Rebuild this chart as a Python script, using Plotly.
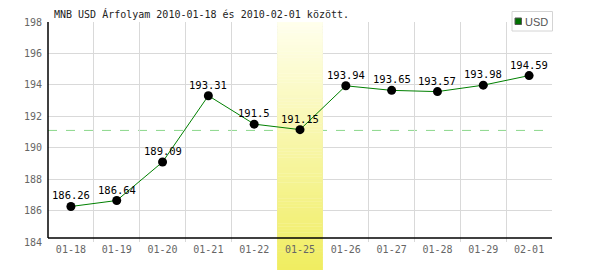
import plotly.graph_objects as go

dates = ["01-18", "01-19", "01-20", "01-21", "01-22", "01-25",
         "01-26", "01-27", "01-28", "01-29", "02-01"]
usd = [186.26, 186.64, 189.09, 193.31, 191.5, 191.15,
       193.94, 193.65, 193.57, 193.98, 194.59]
y_ticks = [184, 186, 188, 190, 192, 194, 196, 198]
ref_level = 191.1
highlight = "01-25"
title_text = "MNB USD Árfolyam 2010-01-18 és 2010-02-01 között."
series_name = "USD"

W, H = 600, 270
L, R, T, B = 48, 48, 22, 28
PW, PH = W - L - R, H - T - B
YMIN, YMAX = y_ticks[0], y_ticks[-1]

def px_paper_x(px):
    return (px - L) / PW

def px_paper_y(py):
    return (H - B - py) / PH

def px_data_y(py):
    return YMIN + (H - B - py) / PH * (YMAX - YMIN)

xs = list(range(len(dates)))
mono = "DejaVu Sans Mono"

fig = go.Figure()
fig.add_trace(go.Scatter(
    x=xs, y=usd, mode="lines+markers",
    line=dict(color="#008000", width=1),
    marker=dict(color="black", size=9),
    cliponaxis=False, showlegend=False, hoverinfo="skip",
))

shapes = []
# reference dashed line (drawn under the highlight band)
shapes.append(dict(type="line", xref="paper", yref="y", layer="between",
                   x0=0, x1=1, y0=ref_level, y1=ref_level,
                   line=dict(color="rgb(140,215,140)", width=1, dash="dash")))

# highlight band with vertical gradient
hi = dates.index(highlight)
top_px, bot_px = 20, 270
n = 80
c0 = (255, 255, 238)
c1 = (240, 237, 96)
for i in range(n):
    a = top_px + (bot_px - top_px) * i / n
    b = top_px + (bot_px - top_px) * (i + 1) / n
    t = (i + 0.5) / n
    col = "rgb(%d,%d,%d)" % tuple(round(c0[k] + (c1[k] - c0[k]) * t) for k in range(3))
    if b <= H - B:
        shapes.append(dict(type="rect", xref="x", yref="y", layer="between",
                           x0=hi - 0.5, x1=hi + 0.5,
                           y0=px_data_y(b) - 0.02, y1=px_data_y(a),
                           fillcolor=col, line=dict(width=0)))
    else:
        shapes.append(dict(type="rect", xref="x", yref="paper", layer="below",
                           x0=hi - 0.5, x1=hi + 0.5,
                           y0=px_paper_y(b + 0.5), y1=px_paper_y(a),
                           fillcolor=col, line=dict(width=0)))

# axis lines
axis_py = 238
shapes.append(dict(type="line", xref="paper", yref="paper", layer="above",
                   x0=0, x1=1, y0=px_paper_y(axis_py), y1=px_paper_y(axis_py),
                   line=dict(color="black", width=1.5)))
shapes.append(dict(type="line", xref="paper", yref="paper", layer="above",
                   x0=0, x1=0, y0=px_paper_y(axis_py), y1=1,
                   line=dict(color="black", width=1.5)))

# legend box
shapes.append(dict(type="rect", xref="paper", yref="paper", layer="above",
                   x0=px_paper_x(512), x1=px_paper_x(552.5),
                   y0=px_paper_y(31), y1=px_paper_y(11.5),
                   fillcolor="white", line=dict(color="#d4d4d4", width=1)))
shapes.append(dict(type="rect", xref="paper", yref="paper", layer="above",
                   x0=px_paper_x(515), x1=px_paper_x(521.5),
                   y0=px_paper_y(24.5), y1=px_paper_y(18),
                   fillcolor="#007000", line=dict(color="#555555", width=1)))

annotations = [
    dict(text=series_name, xref="paper", yref="paper",
         x=px_paper_x(523), y=px_paper_y(21.5), xanchor="left", yanchor="middle",
         showarrow=False, font=dict(family="Liberation Sans", size=11, color="#555555")),
    dict(text=title_text, xref="paper", yref="paper",
         x=px_paper_x(52), y=px_paper_y(14.5), xanchor="left", yanchor="middle",
         showarrow=False, font=dict(family=mono, size=10, color="#222222")),
]
# value labels above the points
for xi, v in zip(xs, usd):
    annotations.append(dict(text=str(v), x=xi, y=v, xref="x", yref="y",
                            xanchor="center", yanchor="middle", yshift=11,
                            showarrow=False,
                            font=dict(family=mono, size=10.5, color="black")))

fig.update_layout(
    width=W, height=H,
    margin=dict(l=L, r=R, t=T, b=B, pad=0),
    paper_bgcolor="white", plot_bgcolor="white",
    showlegend=False,
    shapes=shapes, annotations=annotations,
    xaxis=dict(
        range=[-0.5, len(dates) - 0.5],
        tickmode="array", tickvals=xs, ticktext=dates,
        showgrid=False, zeroline=False, showline=False, ticks="",
        tickfont=dict(family=mono, size=10, color="#666666"),
        minor=dict(tick0=0.5, dtick=1, showgrid=True, gridcolor="#d9d9d9", gridwidth=1, ticks=""),
        fixedrange=True,
    ),
    yaxis=dict(
        range=[YMIN, YMAX],
        tickmode="array", tickvals=y_ticks, ticktext=[str(v) for v in y_ticks],
        showgrid=True, gridcolor="#d9d9d9", gridwidth=1,
        zeroline=False, showline=False, ticks="",
        ticklabelstandoff=5,
        tickfont=dict(family=mono, size=10, color="#666666"),
        fixedrange=True,
    ),
)

fig.write_html("out.html")
